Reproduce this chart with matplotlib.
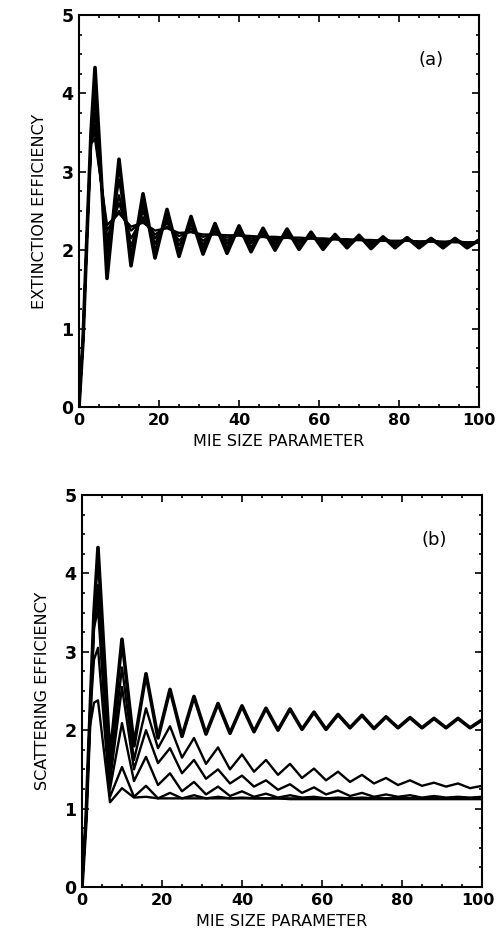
import matplotlib
matplotlib.use("Agg")
import matplotlib.pyplot as plt
from matplotlib.ticker import MultipleLocator
from matplotlib.transforms import ScaledTranslation

# Mie size parameter sample positions (read at peaks / troughs)
size_param = [0, 1, 2, 3, 4, 7, 10, 13, 16, 19, 22, 25, 28, 31, 34, 37, 40, 43, 46,
              49, 52, 55, 58, 61, 64, 67, 70, 73, 76, 79, 82, 85, 88, 91, 94, 97, 100]

# (a) extinction efficiency, one series per absorption level
ext_1 = [0, 0.85, 2.2, 3.5, 4.33, 1.64, 3.16, 1.80, 2.72, 1.90, 2.52, 1.92, 2.43, 1.95, 2.34,
         1.96, 2.31, 1.98, 2.28, 2.00, 2.27, 2.01, 2.23, 2.01, 2.20, 2.03, 2.19, 2.02, 2.17,
         2.03, 2.16, 2.03, 2.15, 2.03, 2.15, 2.03, 2.13]
ext_2 = [0, 0.85, 2.2, 3.45, 3.95, 1.90, 2.90, 1.95, 2.58, 2.00, 2.45, 1.99, 2.38, 2.02, 2.32,
         2.03, 2.28, 2.04, 2.25, 2.05, 2.24, 2.05, 2.21, 2.06, 2.19, 2.06, 2.18, 2.06, 2.17,
         2.06, 2.16, 2.06, 2.15, 2.06, 2.14, 2.06, 2.12]
ext_3 = [0, 0.85, 2.2, 3.42, 3.75, 2.05, 2.70, 2.05, 2.50, 2.08, 2.40, 2.06, 2.33, 2.07, 2.28,
         2.08, 2.25, 2.09, 2.22, 2.09, 2.20, 2.09, 2.18, 2.09, 2.17, 2.09, 2.16, 2.09, 2.15,
         2.09, 2.14, 2.09, 2.13, 2.09, 2.13, 2.08, 2.11]
ext_4 = [0, 0.85, 2.2, 3.4, 3.60, 2.15, 2.60, 2.15, 2.42, 2.15, 2.35, 2.12, 2.28, 2.12, 2.24,
         2.12, 2.22, 2.12, 2.19, 2.12, 2.18, 2.11, 2.16, 2.11, 2.15, 2.11, 2.14, 2.10, 2.14,
         2.10, 2.13, 2.10, 2.12, 2.10, 2.12, 2.09, 2.10]
ext_5 = [0, 0.85, 2.2, 3.38, 3.50, 2.25, 2.50, 2.25, 2.38, 2.20, 2.30, 2.18, 2.24, 2.17, 2.21,
         2.16, 2.19, 2.15, 2.17, 2.14, 2.16, 2.13, 2.15, 2.13, 2.14, 2.12, 2.13, 2.12, 2.12,
         2.11, 2.12, 2.11, 2.11, 2.10, 2.11, 2.10, 2.10]
ext_6 = [0, 0.85, 2.2, 3.36, 3.42, 2.32, 2.47, 2.30, 2.35, 2.25, 2.28, 2.22, 2.23, 2.20, 2.20,
         2.19, 2.19, 2.18, 2.17, 2.17, 2.16, 2.16, 2.15, 2.15, 2.14, 2.14, 2.13, 2.13, 2.12,
         2.12, 2.12, 2.11, 2.11, 2.11, 2.10, 2.10, 2.10]

# (b) scattering efficiency
sca_1 = ext_1
sca_2 = [0, 0.85, 2.2, 3.45, 3.85, 1.45, 2.80, 1.62, 2.28, 1.77, 2.05, 1.65, 1.90, 1.57, 1.78,
         1.50, 1.69, 1.47, 1.62, 1.43, 1.57, 1.39, 1.51, 1.36, 1.47, 1.34, 1.43, 1.32, 1.39,
         1.30, 1.36, 1.29, 1.33, 1.28, 1.32, 1.26, 1.29]
sca_3 = [0, 0.85, 2.2, 3.4, 3.70, 1.35, 2.55, 1.50, 2.00, 1.58, 1.77, 1.45, 1.62, 1.38, 1.50,
         1.32, 1.42, 1.28, 1.36, 1.24, 1.31, 1.20, 1.27, 1.18, 1.23, 1.16, 1.20, 1.15, 1.18,
         1.15, 1.17, 1.14, 1.16, 1.14, 1.15, 1.14, 1.15]
sca_4 = [0, 0.85, 2.2, 3.3, 3.55, 1.25, 2.09, 1.35, 1.66, 1.30, 1.45, 1.22, 1.34, 1.18, 1.28,
         1.16, 1.22, 1.15, 1.19, 1.14, 1.17, 1.14, 1.15, 1.13, 1.14, 1.13, 1.14, 1.13, 1.13,
         1.13, 1.13, 1.13, 1.13, 1.13, 1.13, 1.13, 1.13]
sca_5 = [0, 0.85, 2.15, 2.9, 3.05, 1.15, 1.53, 1.15, 1.29, 1.13, 1.20, 1.13, 1.17, 1.13, 1.15,
         1.13, 1.14, 1.13, 1.13, 1.13, 1.13, 1.13, 1.13, 1.13, 1.13, 1.13, 1.13, 1.13, 1.13,
         1.13, 1.13, 1.13, 1.13, 1.13, 1.13, 1.13, 1.13]
sca_6 = [0, 0.85, 2.05, 2.35, 2.38, 1.08, 1.26, 1.14, 1.15, 1.13, 1.13, 1.13, 1.13, 1.13, 1.13,
         1.13, 1.13, 1.13, 1.13, 1.13, 1.12, 1.12, 1.12, 1.12, 1.12, 1.12, 1.12, 1.12, 1.12,
         1.12, 1.12, 1.12, 1.12, 1.12, 1.12, 1.12, 1.12]

x_ticks = [0, 20, 40, 60, 80, 100]
y_ticks = [0, 1, 2, 3, 4, 5]

fig = plt.figure(figsize=(4.96, 9.36), dpi=100)
ax_a = fig.add_axes([0.1593, 0.5652, 0.8065, 0.4188])
ax_b = fig.add_axes([0.1653, 0.0524, 0.8065, 0.4188])

panels = [
    (ax_a, [ext_1, ext_2, ext_3, ext_4, ext_5, ext_6], "EXTINCTION EFFICIENCY", "(a)"),
    (ax_b, [sca_1, sca_2, sca_3, sca_4, sca_5, sca_6], "SCATTERING EFFICIENCY", "(b)"),
]

for ax, series, ylab, tag in panels:
    for i, ys in enumerate(series):
        ax.plot(size_param, ys, color="black", lw=2.6 if i == 0 else 1.7,
                solid_joinstyle="round", solid_capstyle="round")
    ax.set_xlim(0, 100)
    ax.set_ylim(0, 5)
    ax.set_xticks(x_ticks)
    ax.set_yticks(y_ticks)
    ax.xaxis.set_minor_locator(MultipleLocator(5))
    ax.yaxis.set_minor_locator(MultipleLocator(0.25))
    ax.tick_params(which="both", direction="in", top=True, right=True, width=1.2)
    ax.tick_params(which="major", length=5, labelsize=12.5, pad=4)
    ax.tick_params(axis="x", which="major", labelsize=11.5)
    ax.tick_params(which="minor", length=2.5)
    for lab in ax.get_xticklabels() + ax.get_yticklabels():
        lab.set_fontweight("bold")
    for sp in ax.spines.values():
        sp.set_linewidth(1.5)
    ax.set_xlabel("MIE SIZE PARAMETER", fontsize=11.5, labelpad=5)
    ax.set_ylabel(ylab, fontsize=11.5, labelpad=10)
    ax.text(88, 4.42, tag, fontsize=13, ha="center", va="center")

# keep the last x tick label of panel (b) inside the figure
last_lab = ax_b.xaxis.get_major_ticks()[-1].label1
last_lab.set_transform(last_lab.get_transform() +
                       ScaledTranslation(-0.04, 0, fig.dpi_scale_trans))

fig.savefig("out.png", dpi=100)
